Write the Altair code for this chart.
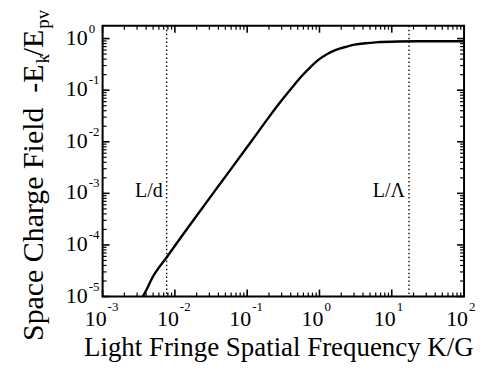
import altair as alt
import pandas as pd

FONT = "Liberation Serif"
W, H = 363, 272

# Curve: K/G vs -E_k/E_pv
kg = [0.0036, 0.0042, 0.0047, 0.0078, 0.030, 0.041, 0.117, 0.2, 0.304, 0.45, 0.574, 0.75,
      0.975, 1.3, 1.66, 2.39, 3.2, 4.29, 6.0, 12.3, 30, 100]
field = [1.0e-5, 1.5e-5, 2.1e-5, 5.9e-5, 8.0e-4, 1.45e-3, 1.07e-2, 0.030, 0.065, 0.128, 0.19, 0.28,
         0.39, 0.51, 0.60, 0.70, 0.77, 0.81, 0.845, 0.88, 0.89, 0.89]

# Vertical dotted reference lines
marker_x = [0.0077, 17.3]
marker_labels = ["L/d", "L/\u039b"]

# Axis ticks and labels
x_major = [1e-3, 1e-2, 1e-1, 1e0, 1e1, 1e2]
x_exps = ["-3", "-2", "-1", "0", "1", "2"]
y_major = [1e-5, 1e-4, 1e-3, 1e-2, 1e-1, 1e0]
y_exps = ["-5", "-4", "-3", "-2", "-1", "0"]
x_minor = [m * 10.0 ** e for e in range(-3, 2) for m in range(2, 10)]
y_minor = [m * 10.0 ** e for e in range(-5, 0) for m in range(2, 10)]

xs = alt.Scale(type="log", domain=[1e-3, 1e2], nice=False)
ys = alt.Scale(type="log", domain=[1e-5, 10 ** 0.25], nice=False)

df_curve = pd.DataFrame({"kg": kg, "field": field})
df_marks = pd.DataFrame({"x": marker_x, "label": marker_labels})
df_xmaj = pd.DataFrame({"v": x_major, "e": x_exps, "b": ["10"] * len(x_major)})
df_ymaj = pd.DataFrame({"v": y_major, "e": y_exps, "b": ["10"] * len(y_major)})
df_xmin = pd.DataFrame({"v": x_minor})
df_ymin = pd.DataFrame({"v": y_minor})

X = lambda f: alt.X(f, scale=xs, axis=None)
Y = lambda f: alt.Y(f, scale=ys, axis=None)

curve = alt.Chart(df_curve).mark_line(
    color="black", strokeWidth=2.4, interpolate="monotone", clip=True
).encode(x=X("kg:Q"), y=Y("field:Q"))

vlines = alt.Chart(df_marks).mark_rule(
    color="black", strokeWidth=1.3, strokeDash=[1.5, 2.5]
).encode(x=X("x:Q"), y=alt.value(0), y2=alt.value(H))

vlabels = alt.Chart(df_marks).mark_text(
    font=FONT, fontSize=20, align="right", baseline="alphabetic", dx=-4
).encode(x=X("x:Q"), y=alt.value(172), text="label:N")

def xticks(df, length, sw):
    r = alt.Chart(df).mark_rule(color="black", strokeWidth=sw)
    return [
        r.encode(x=X("v:Q"), y=alt.value(H), y2=alt.value(H - length)),
        r.encode(x=X("v:Q"), y=alt.value(0), y2=alt.value(length)),
    ]

def yticks(df, length, sw):
    r = alt.Chart(df).mark_rule(color="black", strokeWidth=sw)
    return [
        r.encode(y=Y("v:Q"), x=alt.value(0), x2=alt.value(length)),
        r.encode(y=Y("v:Q"), x=alt.value(W), x2=alt.value(W - length)),
    ]

ticks = (xticks(df_xmaj, 7, 1.6) + xticks(df_xmin, 4, 1.2)
         + yticks(df_ymaj, 7, 1.6) + yticks(df_ymin, 4, 1.2))

xlab_b = alt.Chart(df_xmaj).mark_text(
    font=FONT, fontSize=22, align="right", baseline="alphabetic", dx=4
).encode(x=X("v:Q"), y=alt.value(H + 30), text="b:N")
xlab_e = alt.Chart(df_xmaj).mark_text(
    font=FONT, fontSize=13, align="left", baseline="alphabetic", dx=5
).encode(x=X("v:Q"), y=alt.value(H + 15), text="e:N")

ylab_b = alt.Chart(df_ymaj).mark_text(
    font=FONT, fontSize=22, align="right", baseline="alphabetic", dy=6
).encode(y=Y("v:Q"), x=alt.value(-15), text="b:N")
ylab_e = alt.Chart(df_ymaj).mark_text(
    font=FONT, fontSize=13, align="left", baseline="alphabetic", dy=-6
).encode(y=Y("v:Q"), x=alt.value(-14), text="e:N")

# Axis titles
xtitle = alt.Chart(pd.DataFrame({"t": ["Light Fringe Spatial Frequency K/G"]})).mark_text(
    font=FONT, fontSize=27, align="center", baseline="alphabetic"
).encode(x=alt.value(177), y=alt.value(332), text="t:N")

def ypiece(txt, size, xpos, ypos, align):
    return alt.Chart(pd.DataFrame({"t": [txt]})).mark_text(
        font=FONT, fontSize=size, align=align, baseline="alphabetic", angle=270
    ).encode(x=alt.value(xpos), y=alt.value(ypos), text="t:N")

ytitle = [
    ypiece("Space Charge Field\u00a0\u00a0-E", 30, -60, 39, "right"),
    ypiece("k", 19, -54, 38, "left"),
    ypiece("/E", 30, -60, 4, "right"),
    ypiece("pv", 19, -54, 3, "left"),
]

chart = alt.layer(
    vlines, curve, *ticks, vlabels, xlab_b, xlab_e, ylab_b, ylab_e, xtitle, *ytitle
).properties(
    width=W, height=H,
    autosize=alt.AutoSizeParams(type="none"),
    padding={"left": 95, "top": 17, "right": 12, "bottom": 70},
).configure_view(stroke="black", strokeWidth=2)

chart.save("out.html", embed_options={"renderer": "svg", "actions": False})
